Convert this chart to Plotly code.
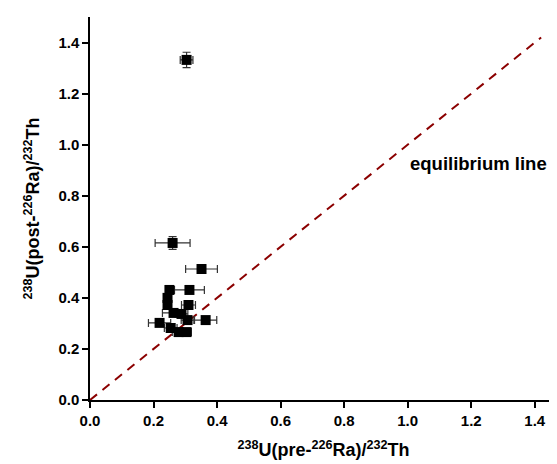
import plotly.graph_objects as go

x_pre = [0.304, 0.260, 0.351, 0.250, 0.313, 0.244, 0.244, 0.310, 0.263, 0.288,
         0.307, 0.364, 0.219, 0.254, 0.279, 0.304]
y_post = [1.332, 0.615, 0.513, 0.431, 0.431, 0.400, 0.372, 0.372, 0.341, 0.337,
          0.313, 0.313, 0.302, 0.282, 0.266, 0.266]
x_err = [0.020, 0.055, 0.050, 0.010, 0.047, 0.012, 0.012, 0.022, 0.035, 0.020,
         0.020, 0.035, 0.035, 0.020, 0.020, 0.015]
y_err = [0.030, 0.025, 0.015, 0.010, 0.010, 0.015, 0.012, 0.010, 0.010, 0.010,
         0.010, 0.010, 0.010, 0.012, 0.012, 0.012]
eq_line = [0.0, 1.42]
tick_vals = [0.0, 0.2, 0.4, 0.6, 0.8, 1.0, 1.2, 1.4]

font_family = "Arial, Liberation Sans, sans-serif"

fig = go.Figure()
fig.add_trace(go.Scatter(
    x=eq_line, y=eq_line, mode="lines",
    line=dict(color="#8B0000", width=2, dash="9px,7px"),
    hoverinfo="skip", showlegend=False))
fig.add_trace(go.Scatter(
    x=x_pre, y=y_post, mode="markers",
    marker=dict(symbol="square", size=10, color="black"),
    error_x=dict(type="data", array=x_err, color="#333333", thickness=1.2, width=4),
    error_y=dict(type="data", array=y_err, color="#333333", thickness=1.2, width=4),
    showlegend=False))

fig.add_annotation(x=1.224, y=0.925, text="<b>equilibrium line</b>", showarrow=False,
                   font=dict(family=font_family, size=18.5, color="black"))

axis_common = dict(
    showline=True, linecolor="black", linewidth=1.5,
    ticks="outside", ticklen=6, tickwidth=1.5, tickcolor="black",
    showgrid=False, zeroline=False, automargin=False,
    tickvals=tick_vals, tickformat=".1f",
    tickfont=dict(family=font_family, size=15, color="black", weight="bold"),
)

fig.update_xaxes(range=[0, 1.47], title=dict(
    text="<b><sup>238</sup>U(pre-<sup>226</sup>Ra)/<sup>232</sup>Th</b>",
    font=dict(family=font_family, size=18, color="black"), standoff=16), **axis_common)
fig.update_yaxes(range=[0, 1.5], title=dict(
    text="<b><sup>238</sup>U(post-<sup>226</sup>Ra)/<sup>232</sup>Th</b>",
    font=dict(family=font_family, size=18, color="black"), standoff=14), **axis_common)

fig.update_layout(
    width=557, height=464,
    margin=dict(l=82, r=8, t=9, b=72),
    plot_bgcolor="white", paper_bgcolor="white",
    font=dict(family=font_family),
)

fig.write_html("out.html")
